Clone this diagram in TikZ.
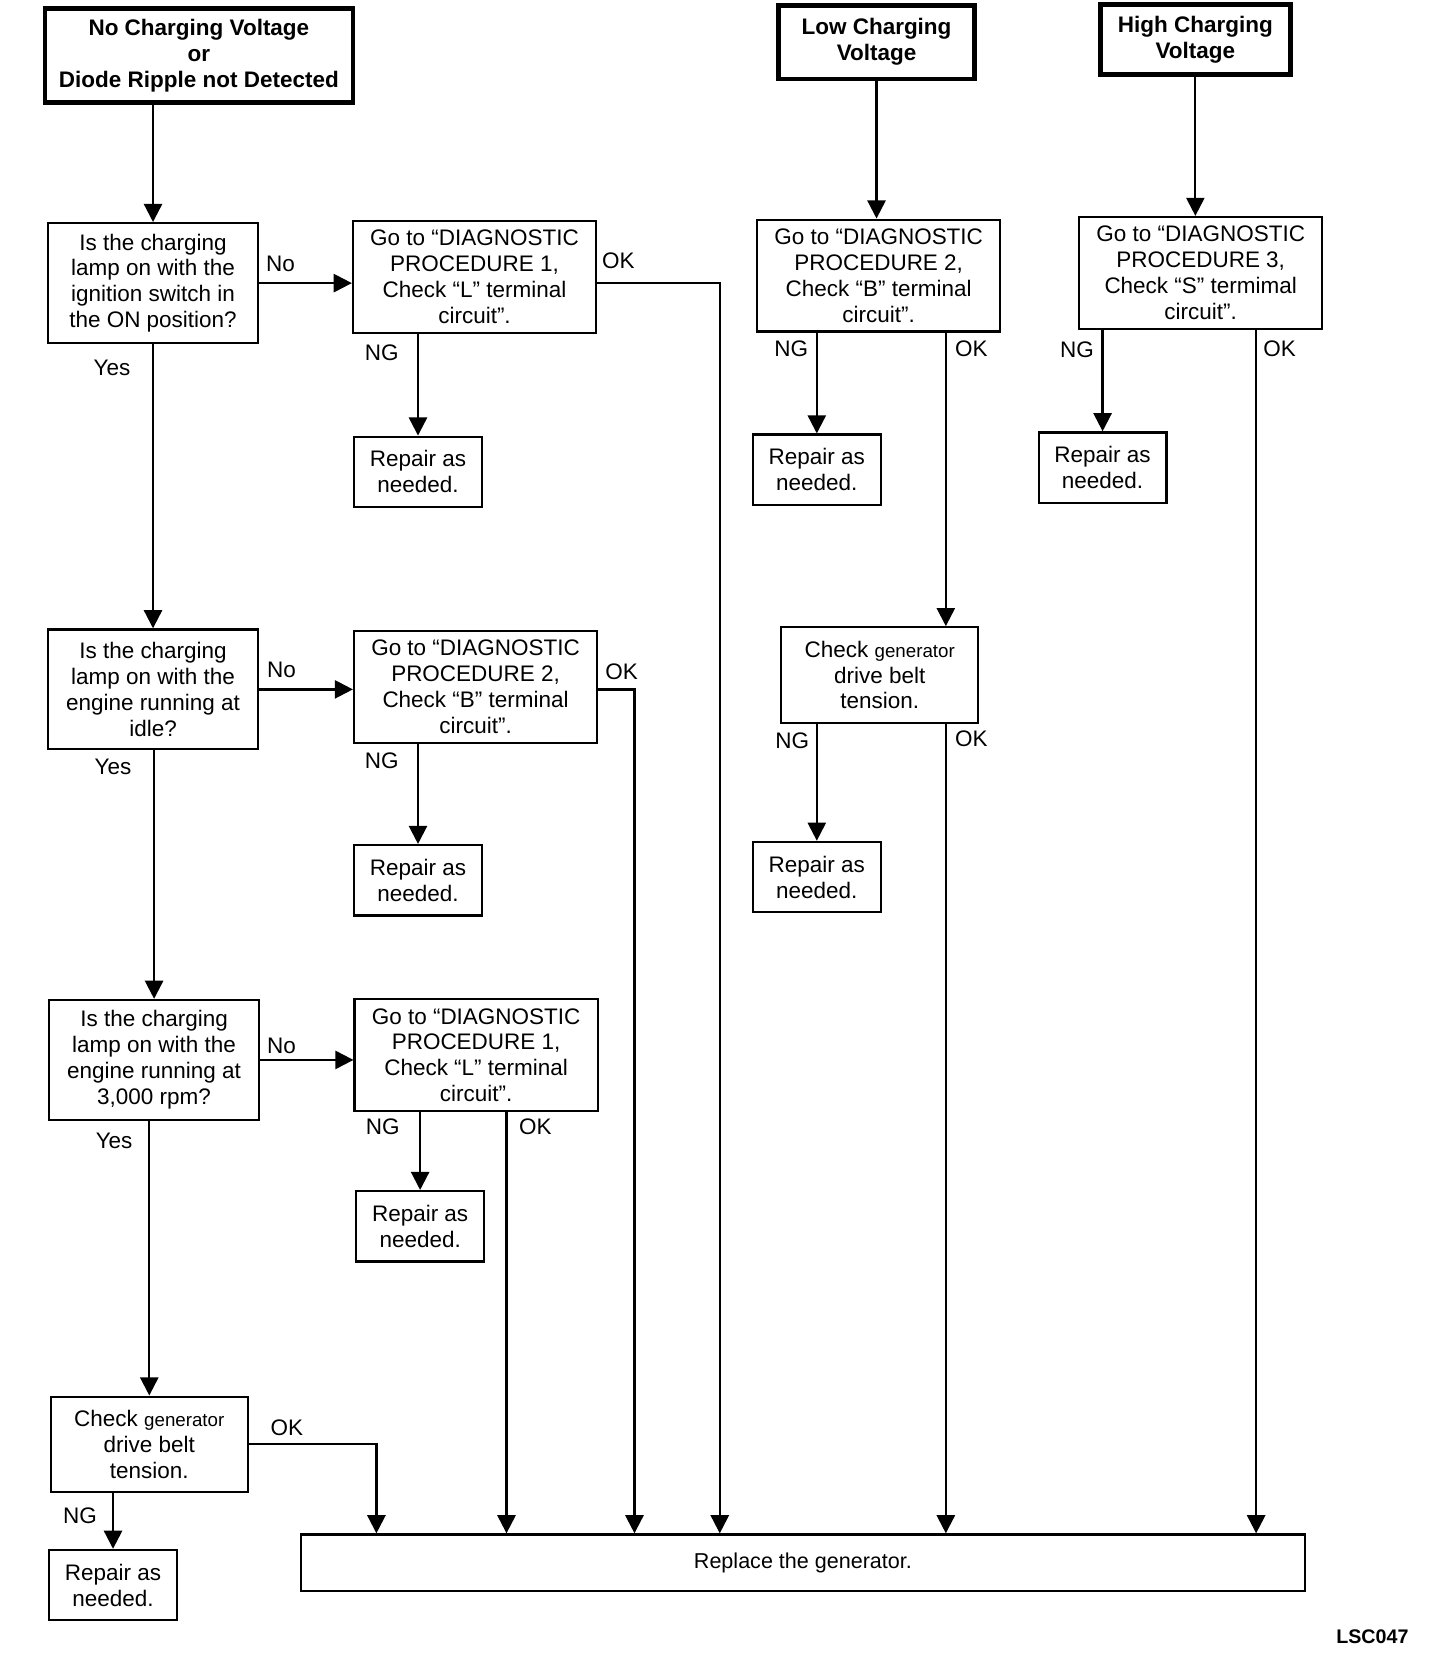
\documentclass[tikz,border=0pt]{standalone}
\usepackage{fontspec}
\setmainfont{Liberation Sans}
\usetikzlibrary{arrows.meta}
\tikzstyle{every node}=[font=\fontsize{12}{13.8}\selectfont]
\tikzstyle{box}=[draw=black,line width=1.2pt,align=center,inner sep=0pt]
\tikzstyle{head}=[box,line width=2.4pt,font=\fontsize{12}{13.8}\selectfont\bfseries]
\tikzstyle{ask}=[box,minimum width=3.94cm,minimum height=2.25cm]
\tikzstyle{proc}=[box,minimum width=4.56cm,minimum height=2.1cm]
\tikzstyle{fix}=[box,minimum width=2.4cm,minimum height=1.32cm]
\tikzstyle{belt}=[box,minimum width=3.7cm,minimum height=1.79cm]
\newcommand{\gen}{{\fontsize{10}{12}\selectfont generator}}

\begin{document}
\begin{tikzpicture}[line width=1.2pt, x=0.02cm, y=-0.02cm, >={Triangle[width=0.34cm,length=0.34cm]}]
	\useasboundingbox (0,0) rectangle (1365,1568);
	\node (a) [head,minimum width=5.78cm,minimum height=1.76cm] at (186.5,52) {No Charging Voltage\\or\\Diode Ripple not Detected};
	\node (b) [head,minimum width=3.68cm,minimum height=1.38cm] at (822,39.5) {Low Charging\\Voltage};
	\node (c) [head,minimum width=3.56cm,minimum height=1.32cm] at (1121,37) {High Charging\\Voltage};
	\node (q1) [ask] at (143.5,265.5) {Is the charging\\lamp on with the\\ignition switch in\\the ON position?};
	\node (q2) [ask] at (143.5,646.5) {Is the charging\\lamp on with the\\engine running at\\idle?};
	\node (q3) [ask] at (144.5,994) {Is the charging\\lamp on with the\\engine running at\\3,000 rpm?};
	\node (c1) [belt] at (140,1354.5) {Check \gen\\drive belt\\tension.};
	\node (r4) [fix] at (106,1486.5) {Repair as\\needed.};
	\node (p1) [proc] at (445,259.5) {Go to “DIAGNOSTIC\\PROCEDURE 1,\\Check “L” terminal\\circuit”.};
	\node (p2) [proc] at (446,644) {Go to “DIAGNOSTIC\\PROCEDURE 2,\\Check “B” terminal\\circuit”.};
	\node (p3) [proc] at (446.5,989.5) {Go to “DIAGNOSTIC\\PROCEDURE 1,\\Check “L” terminal\\circuit”.};
	\node (r1) [fix] at (392,442.5) {Repair as\\needed.};
	\node (r2) [fix] at (392,825.5) {Repair as\\needed.};
	\node (r3) [fix] at (394,1150) {Repair as\\needed.};
	\node (p4) [proc] at (824,258.5) {Go to “DIAGNOSTIC\\PROCEDURE 2,\\Check “B” terminal\\circuit”.};
	\node (r5) [fix] at (766,440.5) {Repair as\\needed.};
	\node (c2) [belt] at (825,633) {Check \gen\\drive belt\\tension.};
	\node (r6) [fix] at (766,822.5) {Repair as\\needed.};
	\node (p5) [proc] at (1126,256) {Go to “DIAGNOSTIC\\PROCEDURE 3,\\Check “S” termimal\\circuit”.};
	\node (r7) [fix] at (1034,438.5) {Repair as\\needed.};
	\node (rep) [box,minimum width=18.84cm,minimum height=1.06cm,font=\fontsize{11.5}{13}\selectfont] at (753,1465.5) {Replace the generator.};
	\node (id) at (1287,1535) [font=\fontsize{10.5}{12}\selectfont\bfseries] {LSC047};

	\coordinate (o1) at (675,0);
	\coordinate (o2) at (595,0);
	\coordinate (o3) at (475,0);
	\coordinate (o4) at (353,0);
	\coordinate (o5) at (887,0);
	\coordinate (o6) at (1178,0);

	\draw[->] (a.south -| q1) -- (q1);
	\draw[->] (q1) -- (p1.west |- q1);
	\draw[->] (p1.east |- q1) -| (rep.north -| o1);
	\draw[->] (p1.south -| r1) -- (r1);
	\draw[->] (q1) -- (q2);
	\draw[->] (q2) -- (p2.west |- q2);
	\draw[->] (p2.east |- q2) -| (rep.north -| o2);
	\draw[->] (p2.south -| r2) -- (r2);
	\draw[->] (q2.south -| q3) -- (q3);
	\draw[->] (q3) -- (p3.west |- q3);
	\draw[->] (p3.south -| o3) -- (rep.north -| o3);
	\draw[->] (p3.south -| r3) -- (r3);
	\draw[->] (q3.south -| c1) -- (c1);
	\draw[->] (c1) -| (rep.north -| o4);
	\draw[->] (c1.south -| r4) -- (r4);
	\draw[->] (b) -- (p4.north -| b);
	\draw[->] (p4.south -| r5) -- (r5);
	\draw[->] (p4.south -| o5) -- (c2.north -| o5);
	\draw[->] (c2.south -| r6) -- (r6);
	\draw[->] (c2.south -| o5) -- (rep.north -| o5);
	\draw[->] (c) -- (p5.north -| c);
	\draw[->] (p5.south -| r7) -- (r7);
	\draw[->] (p5.south -| o6) -- (rep.north -| o6);

	\node (t1) at (263,247) {No};
	\node (t2) at (264,628) {No};
	\node (t3) at (264,981) {No};
	\node (t4) at (105,345) {Yes};
	\node (t5) at (106,719) {Yes};
	\node (t6) at (107,1070) {Yes};
	\node (t7) at (580,245) {OK};
	\node (t8) at (583,630) {OK};
	\node (t9) at (502,1057) {OK};
	\node (t10) at (269,1339) {OK};
	\node (t11) at (911,327) {OK};
	\node (t12) at (911,693) {OK};
	\node (t13) at (1200,327) {OK};
	\node (t14) at (358,331) {NG};
	\node (t15) at (358,713) {NG};
	\node (t16) at (359,1057) {NG};
	\node (t17) at (75,1421) {NG};
	\node (t18) at (742,327) {NG};
	\node (t19) at (743,695) {NG};
	\node (t20) at (1010,328) {NG};
\end{tikzpicture}
\end{document}
